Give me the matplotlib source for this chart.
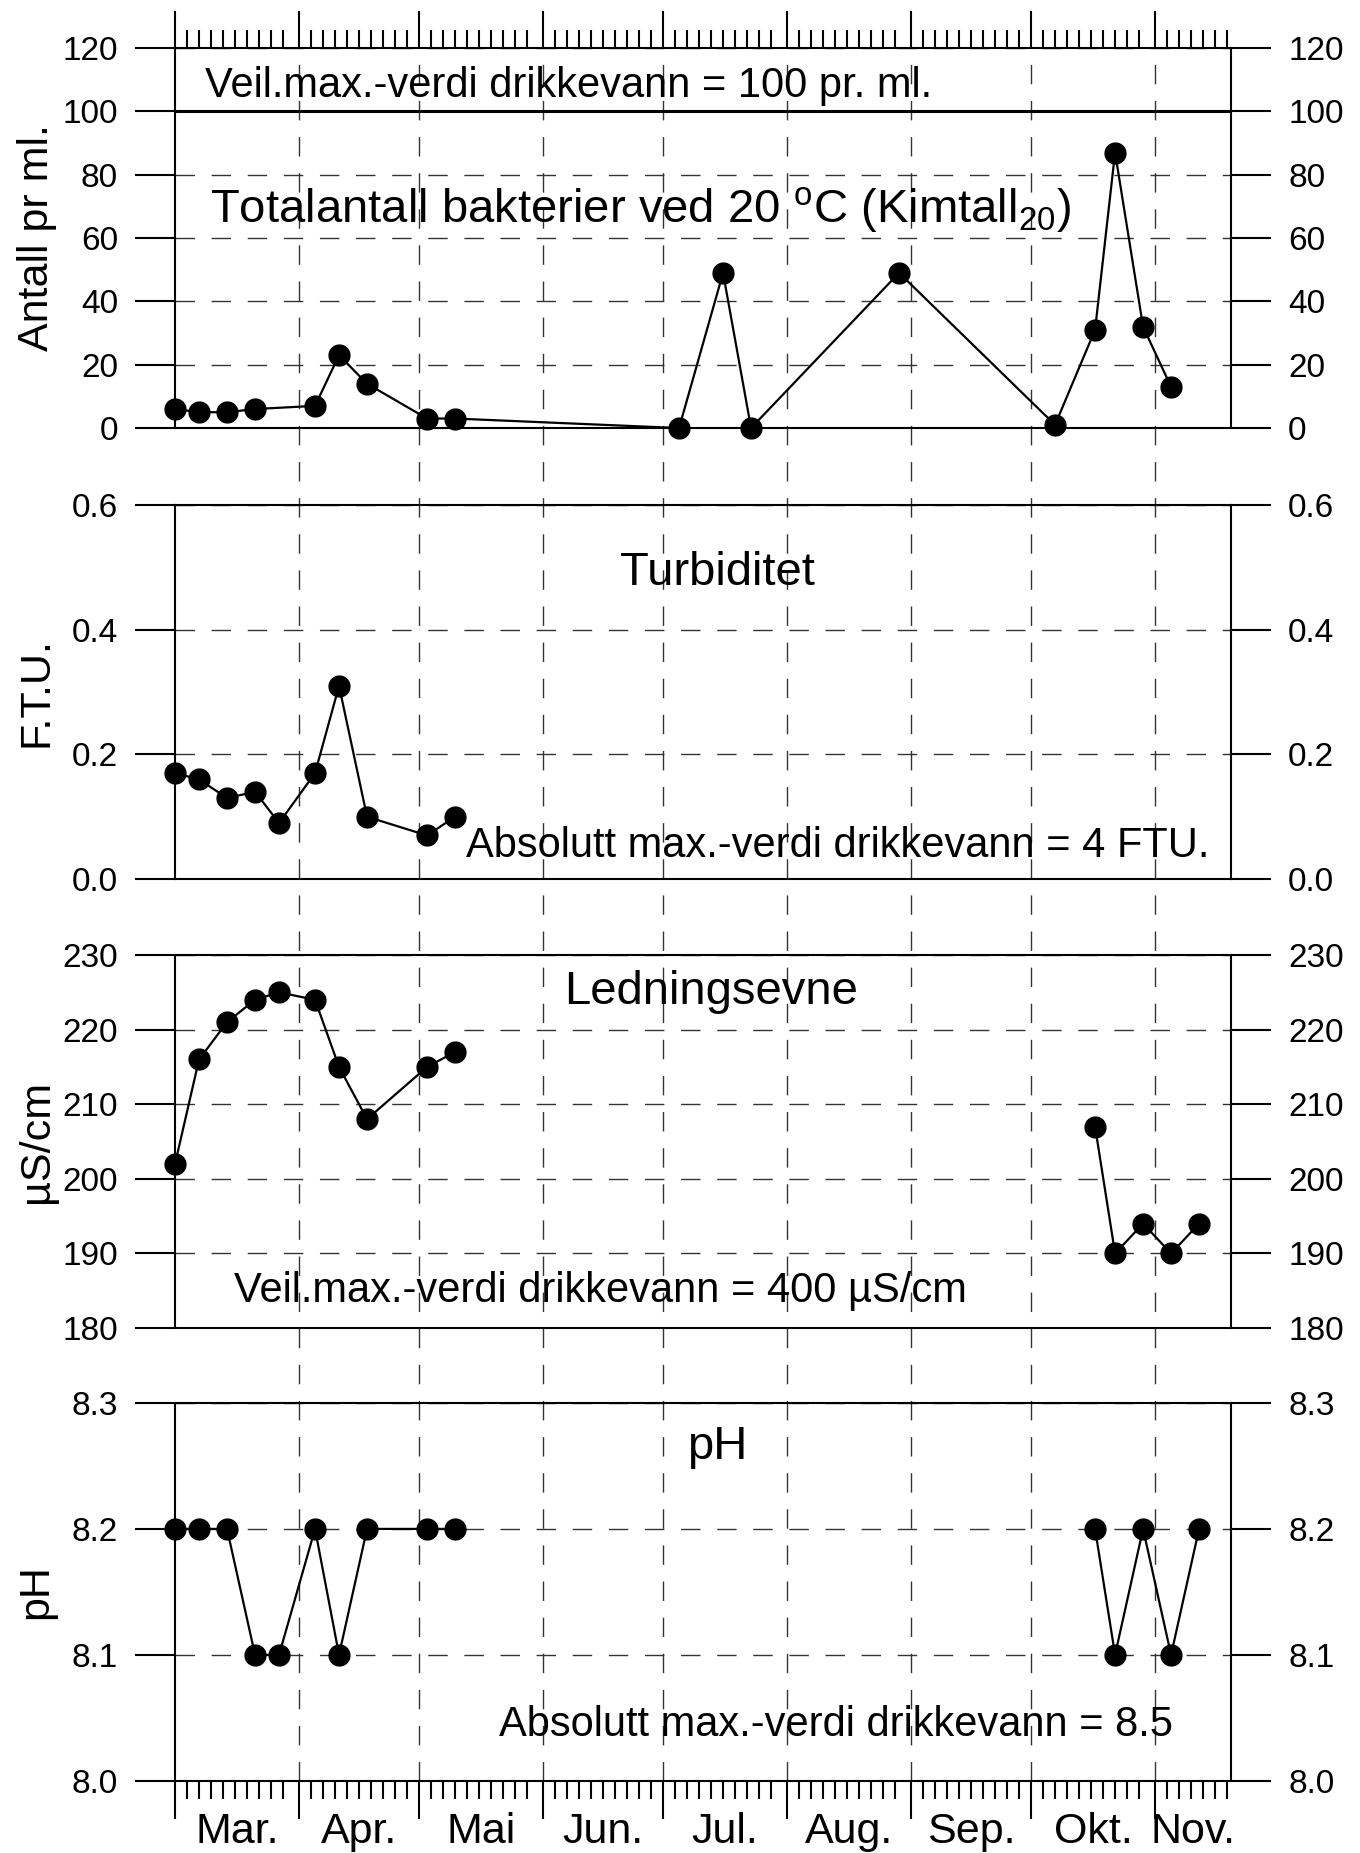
import numpy as np
import matplotlib
matplotlib.use("Agg")
import matplotlib.pyplot as plt
import matplotlib.dates as mdates
from matplotlib.ticker import FormatStrFormatter, NullFormatter
from matplotlib.transforms import blended_transform_factory

plt.rcParams['font.family'] = ['Liberation Sans', 'DejaVu Sans']
plt.rcParams['mathtext.fontset'] = 'custom'
plt.rcParams['mathtext.rm'] = 'Liberation Sans'
plt.rcParams['mathtext.it'] = 'Liberation Sans:italic'

# sampling dates (the year itself is not shown)
spring_dates = ['2001-03-01', '2001-03-07', '2001-03-14', '2001-03-21', '2001-03-27',
                '2001-04-05', '2001-04-11', '2001-04-18', '2001-05-03', '2001-05-10']
autumn_dates = ['2001-10-17', '2001-10-22', '2001-10-29', '2001-11-05', '2001-11-12']

kim_dates = ['2001-03-01', '2001-03-07', '2001-03-14', '2001-03-21', '2001-04-05',
             '2001-04-11', '2001-04-18', '2001-05-03', '2001-05-10', '2001-07-05',
             '2001-07-16', '2001-07-23', '2001-08-29', '2001-10-07', '2001-10-17',
             '2001-10-22', '2001-10-29', '2001-11-05']
kim_vals = [6, 5, 5, 6, 7, 23, 14, 3, 3, 0, 49, 0, 49, 1, 31, 87, 32, 13]

turb_dates = spring_dates
turb_vals = [0.17, 0.16, 0.13, 0.14, 0.09, 0.17, 0.31, 0.10, 0.07, 0.10]

cond_dates = spring_dates + autumn_dates
cond_vals = [202, 216, 221, 224, 225, 224, 215, 208, 215, 217,
             207, 190, 194, 190, 194]

ph_dates = spring_dates + autumn_dates
ph_vals = [8.2, 8.2, 8.2, 8.1, 8.1, 8.2, 8.1, 8.2, 8.2, 8.2,
           8.2, 8.1, 8.2, 8.1, 8.2]

month_labels = ['Mar.', 'Apr.', 'Mai', 'Jun.', 'Jul.', 'Aug.', 'Sep.', 'Okt.', 'Nov.']

x0 = np.datetime64('2001-03-01')
x1 = np.datetime64('2001-11-20')

DASH = (0, (14, 12))
GRID = '#333333'

fig = plt.figure(figsize=(13.6, 18.53), dpi=100)

L, W = 0.1287, 0.7765
boxes = [(0.769, 0.2051), (0.5256, 0.2018), (0.2833, 0.2013), (0.0389, 0.2040)]

# month boundaries run through all four panels and the gaps between them
bg = fig.add_axes([L, boxes[3][0], W, boxes[0][0] + boxes[0][1] - boxes[3][0]], zorder=0)
bg.set_xlim(x0, x1)
bg.axis('off')
month_starts = np.arange('2001-03', '2001-12', dtype='datetime64[M]').astype('datetime64[D]')
for m in month_starts[1:]:
    if m < x1:
        bg.axvline(m, color=GRID, lw=1.0, ls=DASH)


def segments(dates, vals, max_gap=90):
    d = np.array(dates, dtype='datetime64[D]')
    v = np.asarray(vals, dtype=float)
    cut = np.where(np.diff(d).astype(int) > max_gap)[0] + 1
    return zip(np.split(d, cut), np.split(v, cut))


panels = [
    (kim_dates, kim_vals, (0, 120), np.arange(0, 121, 20), '%d', 'Antall pr ml.'),
    (turb_dates, turb_vals, (0, 0.6), np.arange(0, 0.61, 0.2), '%.1f', 'F.T.U.'),
    (cond_dates, cond_vals, (180, 230), np.arange(180, 231, 10), '%d', 'µS/cm'),
    (ph_dates, ph_vals, (8.0, 8.3), np.arange(8.0, 8.31, 0.1), '%.1f', 'pH'),
]

axes = []
for i, (dates, vals, ylim, yt, fmt, ylab) in enumerate(panels):
    b, h = boxes[i]
    ax = fig.add_axes([L, b, W, h], zorder=1)
    ax.set_facecolor('none')
    for d, v in segments(dates, vals):
        ax.plot(d, v, '-o', color='black', lw=1.6, ms=15, clip_on=False, zorder=3)

    ax.set_xlim(x0, x1)
    ax.set_ylim(*ylim)
    ax.set_yticks(yt)
    ax.yaxis.set_major_formatter(FormatStrFormatter(fmt))
    ax.yaxis.grid(True, color=GRID, lw=1.0, ls=DASH)
    ax.set_axisbelow(True)

    ax.xaxis.set_major_locator(mdates.MonthLocator())
    ax.xaxis.set_minor_locator(mdates.DayLocator(bymonthday=range(4, 29, 3)))
    ax.xaxis.set_major_formatter(NullFormatter())
    ax.xaxis.set_minor_formatter(NullFormatter())
    ax.tick_params(axis='x', which='both', direction='out', width=1.5,
                   top=(i == 0), bottom=(i == 3), labelbottom=False, labeltop=False)
    ax.tick_params(axis='x', which='major', length=27)
    ax.tick_params(axis='x', which='minor', length=13)
    ax.tick_params(axis='y', which='major', direction='out', length=29, width=1.5,
                   labelsize=24, pad=12, left=True, right=True,
                   labelleft=True, labelright=True)
    for s in ax.spines.values():
        s.set_linewidth(1.5)

    fig.text(0.027, b + h / 2, ylab, rotation=90, ha='center', va='center', fontsize=31)
    axes.append(ax)

ax1, ax2, ax3, ax4 = axes

# top panel: guideline limit and headings
ax1.axhline(100, color='black', lw=2.2, zorder=2)
ax1.text(0.028, 0.9, 'Veil.max.-verdi drikkevann = 100 pr. ml.', transform=ax1.transAxes,
         ha='left', va='center', fontsize=30)
ax1.text(0.441, 0.575, r'Totalantall bakterier ved 20 $^{\mathrm{o}}$C (Kimtall$_{\mathrm{20}}$)',
         transform=ax1.transAxes, ha='center', va='center', fontsize=34)

ax2.text(0.514, 0.818, 'Turbiditet', transform=ax2.transAxes,
         ha='center', va='center', fontsize=34)
ax2.text(0.276, 0.088, 'Absolutt max.-verdi drikkevann = 4 FTU.', transform=ax2.transAxes,
         ha='left', va='center', fontsize=30)

ax3.text(0.508, 0.9, 'Ledningsevne', transform=ax3.transAxes,
         ha='center', va='center', fontsize=34)
ax3.text(0.056, 0.098, 'Veil.max.-verdi drikkevann = 400 µS/cm', transform=ax3.transAxes,
         ha='left', va='center', fontsize=30)

ax4.text(0.513, 0.884, 'pH', transform=ax4.transAxes,
         ha='center', va='center', fontsize=34)
ax4.text(0.307, 0.148, 'Absolutt max.-verdi drikkevann = 8.5', transform=ax4.transAxes,
         ha='left', va='center', fontsize=30)

# month names centred in the visible part of each month
trans = blended_transform_factory(ax4.transData, ax4.transAxes)
end_num = mdates.date2num(x1)
for k, name in enumerate(month_labels):
    start = mdates.date2num(month_starts[k])
    stop = mdates.date2num(month_starts[k + 1]) if k + 1 < len(month_starts) else end_num
    stop = min(stop, end_num)
    ax4.text((start + stop) / 2, -0.136, name, transform=trans,
             ha='center', va='center', fontsize=31, clip_on=False)

fig.savefig('out.png', dpi=100)
